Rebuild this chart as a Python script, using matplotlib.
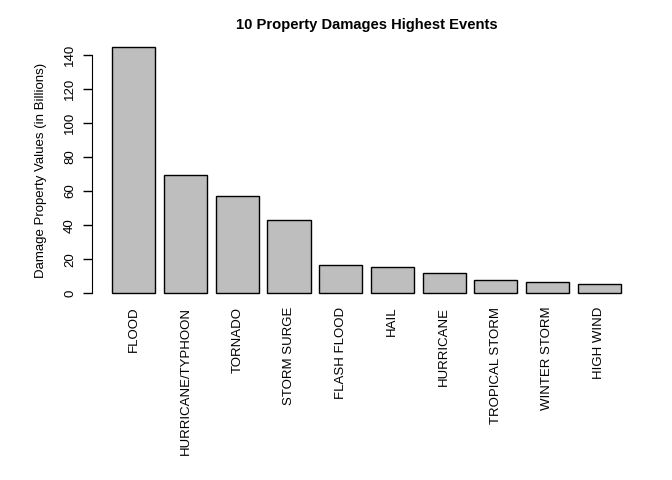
import numpy as np
import matplotlib.pyplot as plt

plt.rcParams['font.family'] = ['Liberation Sans', 'DejaVu Sans']

# Dados: 10 eventos com maiores danos à propriedade (em bilhões)
eventos = ['FLOOD', 'HURRICANE/TYPHOON', 'TORNADO', 'STORM SURGE', 'FLASH FLOOD',
           'HAIL', 'HURRICANE', 'TROPICAL STORM', 'WINTER STORM', 'HIGH WIND']
danos = [144.66, 69.31, 56.94, 43.32, 16.82, 15.74, 11.87, 7.70, 6.69, 5.27]

fig = plt.figure(figsize=(6.72, 4.8), dpi=100)
ax = fig.add_axes([0.1369, 0.3683, 0.817, 0.5546])

# posições estilo barplot do R (largura 1, espaço 0.2)
pos = 0.7 + 1.2 * np.arange(len(danos))
ax.bar(pos, danos, width=1.0, color='#BEBEBE', edgecolor='black', linewidth=1.0)

esq, dir_ = pos[0] - 0.5, pos[-1] + 0.5
ext = 0.04 * (dir_ - esq)
ax.set_xlim(esq - ext, dir_ + ext)
ymax = max(danos)
ax.set_ylim(-0.04 * ymax, ymax * 1.04)

for s in ['top', 'right', 'bottom']:
    ax.spines[s].set_visible(False)
ax.spines['left'].set_bounds(0, 140)

ax.set_yticks(np.arange(0, 141, 20))
ax.set_yticklabels([str(v) for v in range(0, 141, 20)], rotation=90, va='center', fontsize=9.5)
ax.tick_params(axis='y', length=6.5, width=1, pad=5)

ax.set_xticks(pos)
ax.set_xticklabels(eventos, rotation=90, fontsize=9.5)
ax.tick_params(axis='x', length=0, pad=2.5)

fig.text(41 / 672, 1 - 170 / 480, 'Damage Property Values (in Billions)',
         rotation=90, ha='center', va='center', fontsize=9.5)
fig.text((92 + 641) / 2 / 672, 1 - 25 / 480, '10 Property Damages Highest Events',
         ha='center', va='center', fontsize=10.6, fontweight='bold')

fig.savefig('out.png', dpi=100)
